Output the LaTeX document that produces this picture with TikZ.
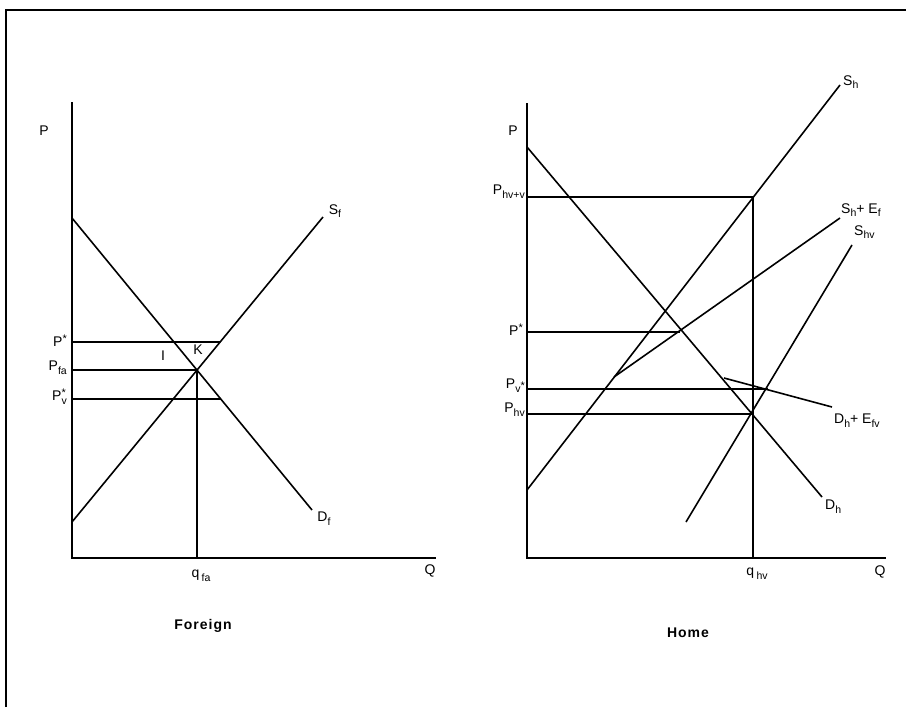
\documentclass[tikz,border=0pt]{standalone}
\usepackage{fontspec}
\setmainfont{Liberation Sans}
\usepackage{tikz}
\usetikzlibrary{positioning}
\newcommand{\lsub}[1]{\raisebox{-.5ex}{\fontsize{10.5}{11}\selectfont #1}}
\newcommand{\lstar}{\raisebox{.55ex}{\fontsize{11}{11}\selectfont *}}

\begin{document}
\begin{tikzpicture}[
    x=1pt, y=-1pt,
    curve/.style={line width=1.6pt},
    guide/.style={line width=1.1pt},
    axis/.style={line width=1.4pt},
    frame/.style={line width=1.7pt},
    lbl/.style={font=\fontsize{14}{16}\selectfont, inner sep=1pt},
    title/.style={font=\bfseries\fontsize{14}{16}\selectfont\addfontfeature{LetterSpace=7}}
]
\useasboundingbox (0,0) rectangle (913,707);

\coordinate (fr1) at (6,707);
\coordinate (fr2) at (6,10);
\coordinate (fr3) at (906,10);
\draw[frame] (fr1) -- (fr2) -- (fr3);

% Foreign
\coordinate (fO) at (72,558);
\coordinate (fPtop) at (72,102);
\coordinate (fQend) at (436,558);
\coordinate (fD1) at (72,218);
\coordinate (fD2) at (312,510);
\coordinate (fS1) at (72,522);
\coordinate (fS2) at (323,217);
\coordinate (fE) at (197,370);
\coordinate (fEq) at (197,558);
\coordinate (fPs) at (72,342);
\coordinate (fPsS) at (220,342);
\coordinate (fPa) at (72,370);
\coordinate (fPv) at (72,399);
\coordinate (fPvD) at (221,399);

\draw[axis] (fPtop) -- (fO) -- (fQend);
\draw[curve] (fD1) -- (fD2);
\draw[curve] (fS1) -- (fS2);
\draw[guide] (fPs) -- (fPsS);
\draw[guide] (fPa) -- (fE);
\draw[guide] (fPv) -- (fPvD);
\draw[guide] (fE) -- (fEq);

\node[lbl] (fP) at (44,131) {P};
\node[lbl] (fQ) at (430,571) {Q};
\node[lbl] (fq) at (201,576) {q\,\lsub{fa}};
\node[lbl, anchor=east] (fPsL) at (68,341) {P\lstar};
\node[lbl, anchor=east] (fPaL) at (68,368) {P\lsub{fa}};
\node[lbl, anchor=east] (fPvL) at (68,397) {P\rlap{\lstar}\lsub{v}};
\node[lbl] (fI) at (163,356) {I};
\node[lbl] (fK) at (198,350) {K};
\node[lbl] (fSl) at (335,211) {S\lsub{f}};
\node[lbl] (fDl) at (324,519) {D\lsub{f}};
\node[title] (foreign) at (203,626) {Foreign};

% Home
\coordinate (hO) at (527,558);
\coordinate (hPtop) at (527,103);
\coordinate (hQend) at (886,558);
\coordinate (hD1) at (527,147);
\coordinate (hD2) at (822,497);
\coordinate (hS1) at (527,490);
\coordinate (hS2) at (840,85);
\coordinate (hK) at (614,377);
\coordinate (hSE) at (840,218);
\coordinate (hV1) at (686,522);
\coordinate (hV2) at (852,245);
\coordinate (hDk) at (724,378);
\coordinate (hDE) at (832,407);
\coordinate (hE) at (753,414);
\coordinate (hR) at (527,197);
\coordinate (hRS) at (753,197);
\coordinate (hEq) at (753,558);
\coordinate (hPs) at (527,332);
\coordinate (hPsS) at (680,332);
\coordinate (hPv) at (527,389);
\coordinate (hPvS) at (768,389);
\coordinate (hPh) at (527,414);

\draw[axis] (hPtop) -- (hO) -- (hQend);
\draw[curve] (hD1) -- (hD2);
\draw[curve] (hS1) -- (hS2);
\draw[curve] (hK) -- (hSE);
\draw[curve] (hV1) -- (hV2);
\draw[curve] (hDk) -- (hDE);
\draw[guide] (hR) -- (hRS) -- (hEq);
\draw[guide] (hPs) -- (hPsS);
\draw[guide] (hPv) -- (hPvS);
\draw[guide] (hPh) -- (hE);

\node[lbl] (hP) at (513,131) {P};
\node[lbl] (hQ) at (880,572) {Q};
\node[lbl] (hq) at (757,574) {q\,\lsub{hv}};
\node[lbl, anchor=east] (hRL) at (526,192) {P\lsub{hv+v}};
\node[lbl, anchor=east] (hPsL) at (524,330) {P\lstar};
\node[lbl, anchor=east] (hPvL) at (526,386) {P\lsub{v\lstar}};
\node[lbl, anchor=east] (hPhL) at (526,410) {P\lsub{hv}};
\node[lbl, anchor=west] (hShL) at (842,82) {S\lsub{h}};
\node[lbl, anchor=west] (hSEL) at (840,210) {S\lsub{h}+ E\lsub{f}};
\node[lbl, anchor=west] (hSvL) at (853,232) {S\lsub{hv}};
\node[lbl, anchor=west] (hDEL) at (833,421) {D\lsub{h}+ E\lsub{fv}};
\node[lbl, anchor=west] (hDhL) at (824,507) {D\lsub{h}};
\node[title] (home) at (688,633) {Home};
\end{tikzpicture}
\end{document}
